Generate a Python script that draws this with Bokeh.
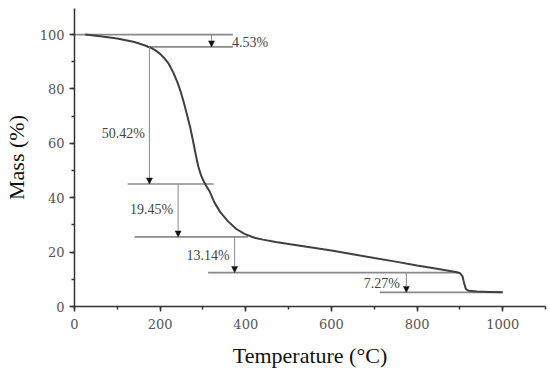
from bokeh.plotting import figure
from bokeh.models import Range1d, Arrow, NormalHead, Label, SingleIntervalTicker
from bokeh.embed import file_html
from bokeh.resources import INLINE

# --- data -------------------------------------------------------------
temperature = [25, 60, 100, 140, 170, 180, 190, 200, 210, 220, 230, 240, 248, 255,
               262, 270, 277, 283, 289, 295, 300, 305, 310, 315, 327, 340, 358,
               378, 397, 420, 440, 470, 500, 550, 600, 650, 700, 750, 800, 850,
               890, 900, 906, 910, 914, 920, 940, 970, 1000]
mass = [100, 99.4, 98.6, 97.3, 95.7, 95.0, 94.1, 92.9, 91.3, 89.3, 86.3, 82.6, 79.0,
        75.2, 71.0, 66.0, 60.8, 56.0, 51.6, 48.5, 46.6, 45.1, 43.8, 42.5, 38.2,
        34.8, 31.4, 28.5, 26.7, 25.3, 24.6, 23.7, 23.0, 21.8, 20.6, 19.2, 17.8,
        16.5, 15.1, 13.8, 12.7, 12.3, 11.2, 8.5, 6.5, 5.8, 5.5, 5.35, 5.2]

loss_labels = ["4.53%", "50.42%", "19.45%", "13.14%", "7.27%"]
loss_values = [4.53, 50.42, 19.45, 13.14, 7.27]

# levels derived from the losses
levels = [100.0]
for v in loss_values:
    levels.append(round(levels[-1] - v, 2))

# --- layout (positions of annotation marks) ----------------------------
level_x0 = [0, 168, 124, 140, 312, 713]
level_x1 = [370, 370, 325, 405, 896, 1000]
arrow_x = [320, 175, 242, 374, 775]
label_x = [368, 114, 180, 312, 760]
label_y = [97.0, 63.5, 35.7, 18.8, 8.3]
label_align = ["left", "center", "center", "center", "right"]

SERIF = "Liberation Serif"
TICKFONT = "DejaVu Serif"

p = figure(frame_width=471, frame_height=298, output_backend="svg", toolbar_location=None,
           x_range=Range1d(0, 1100), y_range=Range1d(0, 109.6),
           min_border_left=40, min_border_right=4, min_border_top=8,
           min_border_bottom=10)
p.outline_line_color = None
p.grid.visible = False
p.background_fill_color = "white"
p.border_fill_color = "white"

# level lines
p.segment(x0=level_x0, y0=levels, x1=level_x1, y1=levels,
          line_color="#8a8a8a", line_width=1.6)

# arrows
for xa, y0, y1 in zip(arrow_x, levels[:-1], levels[1:]):
    p.add_layout(Arrow(x_start=xa, y_start=y0, x_end=xa, y_end=y1,
                       line_color="#8a8a8a", line_width=1,
                       end=NormalHead(size=6, fill_color="#111111",
                                      line_color="#111111", line_width=0.5)))

# TGA curve
p.line(temperature, mass, line_color="#404040", line_width=2)

# labels
for txt, lx, ly, al in zip(loss_labels, label_x, label_y, label_align):
    p.add_layout(Label(x=lx, y=ly, text=txt, text_align=al, text_baseline="middle",
                       text_font=SERIF, text_font_size="14px", text_color="#444444"))

# axes
for ax in (p.xaxis[0], p.yaxis[0]):
    ax.axis_line_color = "#333333"
    ax.axis_line_width = 1.5
    ax.major_tick_line_color = "#333333"
    ax.minor_tick_line_color = "#333333"
    ax.major_tick_line_width = 1.5
    ax.minor_tick_line_width = 1.5
    ax.major_tick_out = 5
    ax.major_tick_in = 0
    ax.minor_tick_out = 3
    ax.minor_tick_in = 0
    ax.major_label_text_font = TICKFONT
    ax.major_label_text_font_size = "13px"
    ax.major_label_text_color = "#555555"
    ax.axis_label_text_font = SERIF
    ax.axis_label_text_font_size = "22px"
    ax.axis_label_text_font_style = "normal"
    ax.axis_label_text_color = "#111111"

p.xaxis[0].ticker = SingleIntervalTicker(interval=200, num_minor_ticks=2)
p.yaxis[0].ticker = SingleIntervalTicker(interval=20, num_minor_ticks=2)
p.xaxis.axis_label = "Temperature (°C)"
p.yaxis.axis_label = "Mass (%)"
p.xaxis.axis_label_standoff = 11
p.xaxis.major_label_standoff = 7
p.yaxis.axis_label_standoff = 8

open("out.html", "w").write(file_html(p, INLINE))
